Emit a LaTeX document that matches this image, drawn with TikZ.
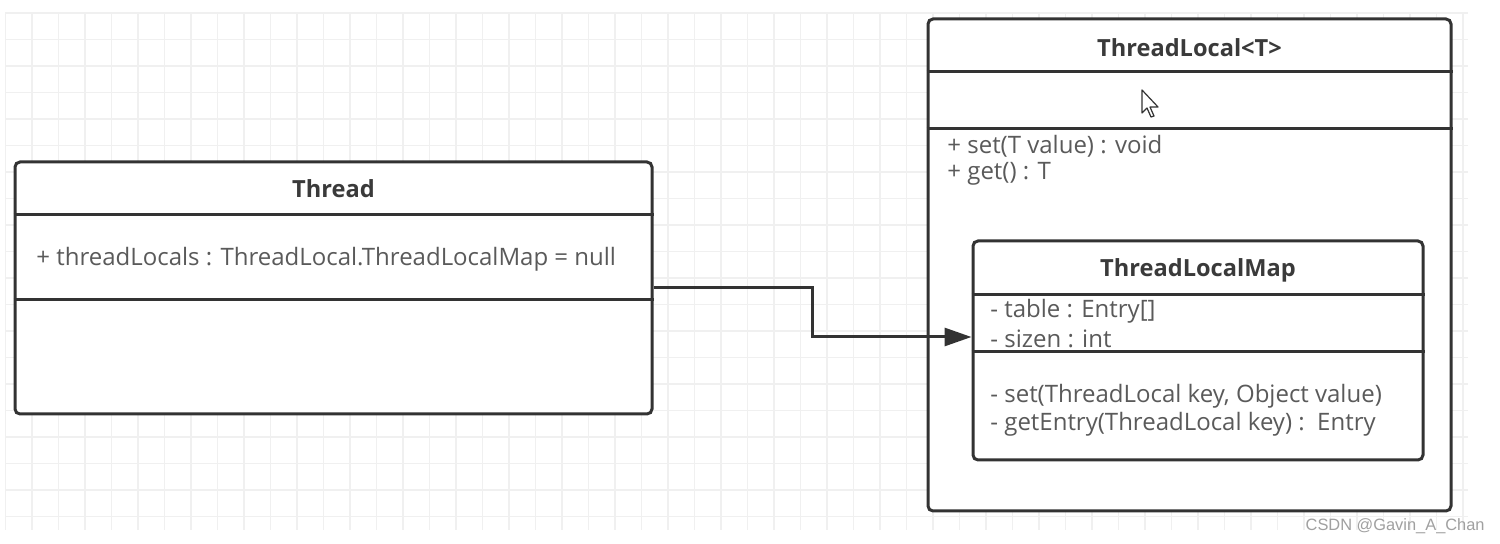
\documentclass[tikz,border=0pt]{standalone}
\usepackage{fontspec}
\setmainfont{Open Sans}
\newfontfamily\wmfont{Liberation Sans}
\usetikzlibrary{arrows.meta}
\definecolor{gridc}{HTML}{F0F0F0}
\definecolor{boxc}{HTML}{333333}
\definecolor{titlec}{HTML}{3A3A3A}
\definecolor{memc}{HTML}{5A5A5A}
\definecolor{wmc}{HTML}{A0A0A0}
\tikzset{
  gridline/.style={draw=gridc, line width=0.6pt},
  classbox/.style={draw=boxc, fill=white, line width=1.5pt, rounded corners=2.5pt, inner sep=0pt},
  divider/.style={draw=boxc, line width=1.5pt},
  title/.style={font=\fontsize{11.8}{14}\selectfont\bfseries, text=titlec, inner sep=0pt},
  member/.style={font=\fontsize{12}{14}\selectfont, text=memc, anchor=west, inner sep=0pt},
  conn/.style={draw=boxc, line width=1.5pt, -{Triangle[length=13.5pt,width=9pt]}},
}
\begin{document}
\begin{tikzpicture}[x=0.5pt,y=-0.5pt]
\useasboundingbox (0,0) rectangle (1500,544);
\fill[white] (0,0) rectangle (1500,544);
% grid
\foreach \i in {0,...,55} {\draw[gridline] (5.5+26.5*\i,13) -- (5.5+26.5*\i,530);}
\foreach \j in {0,...,19} {\draw[gridline] (5,13+26.5*\j) -- (1468,13+26.5*\j);}
% Thread
\node[classbox, minimum width=318.5pt, minimum height=126pt] (thread) at (333.5,288) {};
\draw[divider] (thread.west |- 0,215) -- (thread.east |- 0,215);
\draw[divider] (thread.west |- 0,300) -- (thread.east |- 0,300);
\node[title] (threadT) at (333.5,189) {Thread};
\node[member] (threadA) at (36,259) {+ threadLocals : ThreadLocal.ThreadLocalMap = null};
% ThreadLocal
\node[classbox, minimum width=261.5pt, minimum height=246pt] (tl) at (1189.5,265) {};
\draw[divider] (tl.west |- 0,72) -- (tl.east |- 0,72);
\draw[divider] (tl.west |- 0,129) -- (tl.east |- 0,129);
\node[title] (tlT) at (1189.5,48) {ThreadLocal<T>};
\node[member] (tlM1) at (947,146) {+ set(T value) : void};
\node[member] (tlM2) at (947,174) {+ get() : T};
% cursor
\draw[boxc, fill=white, line width=0.6pt, line join=round]
  (1142,90) -- (1142,113) -- (1147,108) -- (1151,117) -- (1154,116) -- (1150,107) -- (1158,107) -- cycle;
% connector
\node[classbox, minimum width=225pt, minimum height=109.5pt] (map) at (1198,350.5) {};
\draw[conn] (thread.east) -- (812,288) |- (map.west |- 0,337);
\draw[divider] (map.west |- 0,295) -- (map.east |- 0,295);
\draw[divider] (map.west |- 0,352) -- (map.east |- 0,352);
\node[title] (mapT) at (1198,270) {ThreadLocalMap};
\node[member] (mapA1) at (990,311) {- table : Entry[]};
\node[member] (mapA2) at (990,339) {- sizen : int};
\node[member] (mapM1) at (990,396) {- set(ThreadLocal key, Object value)};
\node[member] (mapM2) at (990,424) {- getEntry(ThreadLocal key) :\ \ Entry};
% watermark
\node[font=\wmfont\fontsize{8.2}{10}\selectfont, text=wmc, anchor=east, inner sep=0pt] (wm) at (1485,526) {CSDN @Gavin\_A\_Chan};
\end{tikzpicture}
\end{document}
